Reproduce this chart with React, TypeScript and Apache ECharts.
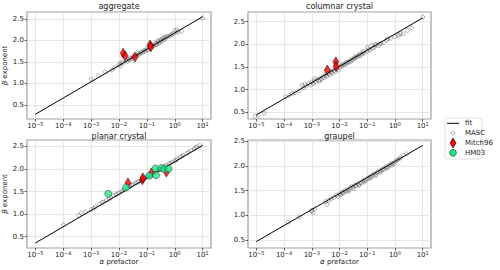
import React, { useEffect, useRef } from "react";
import * as echarts from "echarts";

// ---------- data ----------
const panelTitles = ["aggregate", "columnar crystal", "planar crystal", "graupel"];
const xTickValues = [1e-5, 1e-4, 1e-3, 1e-2, 1e-1, 1, 10];
const yTickValues = [0.5, 1.0, 1.5, 2.0, 2.5];

// fit lines (alpha prefactor vs beta exponent)
const fitAlpha = [1e-5, 10];
const aggFitBeta = [0.28, 2.55];
const colFitBeta = [0.44, 2.58];
const plaFitBeta = [0.36, 2.52];
const graFitBeta = [0.47, 2.41];

// MASC – aggregate
const aggMascAlpha = [1.0e-3, 1.78e-3, 3.2e-3, 5.6e-3, 7.1e-3, 0.01, 0.0112, 0.0126, 0.0141, 0.0178, 0.02, 0.0224, 0.0251, 0.0282, 0.0316, 0.0355, 0.0398, 0.0447, 0.0501, 0.0562, 0.0631, 0.0708, 0.0794, 0.0891, 0.1, 0.112, 0.126, 0.141, 0.158, 0.178, 0.2, 0.224, 0.251, 0.282, 0.316, 0.355, 0.398, 0.501, 0.562, 0.631, 0.794, 1.0, 1.2, 1.32, 1.78, 10.0,
  0.0112, 0.024, 0.038, 0.0525, 0.0759, 0.105, 0.132, 0.166, 0.209, 0.263, 0.331, 0.38, 0.447, 0.708, 0.891, 1.12, 0.251, 0.447];
const aggMascBeta = [1.10, 1.18, 1.27, 1.31, 1.37, 1.43, 1.40, 1.50, 1.47, 1.53, 1.51, 1.56, 1.59, 1.58, 1.62, 1.61, 1.66, 1.64, 1.70, 1.69, 1.73, 1.72, 1.77, 1.75, 1.81, 1.79, 1.85, 1.83, 1.89, 1.87, 1.93, 1.91, 1.97, 1.95, 2.01, 2.04, 2.06, 2.08, 2.10, 2.09, 2.14, 2.23, 2.24, 2.19, 2.21, 2.52,
  1.46, 1.55, 1.63, 1.67, 1.74, 1.78, 1.81, 1.86, 1.90, 1.93, 1.97, 2.00, 2.03, 2.12, 2.16, 2.18, 2.00, 2.07];

// MASC – columnar crystal
const colMascAlpha = [8.9e-6, 1.2e-5, 1.9e-5, 1.12e-4, 1.58e-4, 2.0e-4, 2.51e-4, 3.55e-4, 4.47e-4, 5.0e-4, 6.3e-4, 7.9e-4, 8.9e-4, 1.0e-3, 1.12e-3, 1.26e-3, 1.41e-3, 1.58e-3, 1.78e-3, 2.0e-3, 2.24e-3, 2.51e-3, 2.82e-3, 3.16e-3, 3.55e-3, 3.98e-3, 4.47e-3, 5.0e-3, 5.6e-3, 6.3e-3, 7.1e-3, 7.9e-3, 8.9e-3, 0.01, 0.0112, 0.0126, 0.0141, 0.0158, 0.0178, 0.02, 0.0224, 0.0251, 0.0282, 0.0316, 0.0355, 0.0398, 0.0447, 0.0501, 0.0562, 0.0631, 0.0708, 0.0794, 0.1, 0.1, 0.112, 0.126, 0.141, 0.158, 0.178, 0.2, 0.251, 0.316, 0.398, 0.501, 0.708, 1.0, 1.26, 1.58, 2.0, 2.82, 3.98, 10.0,
  5.62e-4, 1.26e-3, 2.0e-3, 3.16e-3, 5.0e-3, 7.94e-3, 0.0126, 0.0178, 0.0251, 0.0355, 0.0501, 0.0708, 0.2, 0.282, 0.562, 1.41];
const colMascBeta = [0.41, 0.43, 0.48, 0.84, 0.87, 0.92, 0.93, 0.97, 1.10, 1.04, 1.08, 1.14, 1.10, 1.17, 1.13, 1.19, 1.16, 1.22, 1.19, 1.25, 1.23, 1.28, 1.26, 1.31, 1.29, 1.35, 1.33, 1.38, 1.36, 1.42, 1.40, 1.45, 1.43, 1.49, 1.52, 1.51, 1.55, 1.57, 1.56, 1.60, 1.62, 1.61, 1.65, 1.67, 1.69, 1.71, 1.73, 1.75, 1.74, 1.78, 1.81, 1.80, 1.85, 1.93, 1.88, 1.87, 1.97, 1.91, 1.93, 2.00, 1.97, 2.02, 2.04, 2.09, 2.13, 2.17, 2.21, 2.24, 2.23, 2.30, 2.36, 2.60,
  1.12, 1.24, 1.20, 1.34, 1.40, 1.48, 1.55, 1.60, 1.66, 1.72, 1.78, 1.84, 1.98, 2.00, 2.12, 2.20];

// MASC – planar crystal
const plaMascAlpha = [1.0e-4, 3.55e-4, 4.47e-4, 6.3e-4, 1.0e-3, 1.26e-3, 1.41e-3, 2.0e-3, 2.82e-3, 3.55e-3, 5.0e-3, 6.3e-3, 7.9e-3, 0.01, 0.0126, 0.0158, 0.02, 0.0251, 0.0316, 0.0398, 0.0501, 0.0631, 0.0794, 0.1, 0.126, 0.158, 0.2, 0.251, 0.316, 0.398, 0.501, 0.631, 0.794, 1.0, 1.26, 1.58, 2.0, 2.82, 3.98, 5.01, 6.3, 7.9,
  2.51e-3, 4.47e-3, 8.9e-3, 0.0141, 0.0282, 0.0447, 0.0708, 0.112, 0.178, 0.282, 0.447, 0.708, 1.12, 1.78, 3.16, 5.62];
const plaMascBeta = [0.76, 0.97, 1.03, 1.05, 1.10, 1.13, 1.16, 1.22, 1.27, 1.31, 1.37, 1.41, 1.43, 1.47, 1.50, 1.54, 1.58, 1.61, 1.65, 1.69, 1.71, 1.75, 1.78, 1.82, 1.86, 1.90, 1.93, 1.97, 2.00, 2.04, 2.08, 2.12, 2.15, 2.18, 2.22, 2.26, 2.30, 2.35, 2.41, 2.44, 2.49, 2.52,
  1.26, 1.33, 1.45, 1.53, 1.64, 1.70, 1.77, 1.84, 1.91, 1.99, 2.06, 2.13, 2.20, 2.28, 2.37, 2.47];

// MASC – graupel
const graMascAlpha = [1.41e-4, 3.55e-4, 1.0e-3, 1.12e-3, 1.26e-3, 3.55e-3, 3.98e-3, 5.0e-3, 6.3e-3, 7.9e-3, 8.9e-3, 0.01, 0.0112, 0.0126, 0.0141, 0.0158, 0.0178, 0.02, 0.0224, 0.0251, 0.0282, 0.0316, 0.0355, 0.0398, 0.0447, 0.0501, 0.0562, 0.0631, 0.0708, 0.0794, 0.0891, 0.1, 0.112, 0.126, 0.141, 0.158, 0.178, 0.2, 0.224, 0.251, 0.282, 0.316, 0.355, 0.398, 0.447, 0.501, 0.562, 0.631, 0.708, 0.794, 0.891, 1.0, 1.12, 1.26, 2.0, 2.63,
  0.0126, 0.02, 0.0316, 0.0501, 0.0794, 0.126, 0.2, 0.316, 0.501, 0.794, 1.41, 1.58, 3.16e-3, 1.0e-3];
const graMascBeta = [0.86, 0.97, 1.10, 1.05, 1.13, 1.22, 1.30, 1.33, 1.36, 1.41, 1.38, 1.43, 1.41, 1.47, 1.45, 1.50, 1.48, 1.52, 1.50, 1.56, 1.58, 1.57, 1.61, 1.60, 1.63, 1.62, 1.66, 1.65, 1.69, 1.71, 1.70, 1.74, 1.76, 1.78, 1.77, 1.81, 1.84, 1.82, 1.86, 1.88, 1.87, 1.91, 1.93, 1.92, 1.96, 1.98, 1.97, 2.01, 2.03, 2.05, 2.04, 2.08, 2.10, 2.12, 2.21, 2.24,
  1.44, 1.49, 1.54, 1.60, 1.67, 1.74, 1.80, 1.88, 1.95, 2.01, 2.14, 2.16, 1.28, 1.08];

// Mitch96
const aggMitAlpha = [0.0141, 0.0166, 0.0372, 0.129, 0.138];
const aggMitBeta = [1.70, 1.64, 1.61, 1.89, 1.85];
const colMitAlpha = [0.00363, 0.0074, 0.0075];
const colMitBeta = [1.43, 1.61, 1.51];
const plaMitAlpha = [0.021, 0.069, 0.072, 0.145, 0.50];
const plaMitBeta = [1.69, 1.76, 1.80, 1.91, 1.93];

// HM03 (planar crystal)
const plaHmAlpha = [0.0041, 0.018, 0.123, 0.204, 0.213, 0.33, 0.42, 0.60];
const plaHmBeta = [1.45, 1.59, 1.85, 2.01, 1.86, 2.02, 2.00, 2.00];

const legendNames = ["fit", "MASC", "Mitch96", "HM03"];

// ---------- styling / layout ----------
const FONT = "DejaVu Sans";
const TXT = "#222";
const FS = 7;
const X_MIN = Math.pow(10, -5.3);
const X_MAX = Math.pow(10, 1.3);
const yRanges = [
  [0.17, 2.66],
  [0.35, 2.71],
  [0.25, 2.64],
  [0.34, 2.52],
];
const grids = [
  { left: 27, top: 12, width: 184, height: 107 },
  { left: 248, top: 12, width: 183, height: 107 },
  { left: 27, top: 140, width: 184, height: 108 },
  { left: 248, top: 140, width: 183, height: 108 },
];

const zip = (a: number[], b: number[]) => a.map((v, i) => [v, b[i]]);

const powFmt = (v: number) => {
  const L = Math.log10(v);
  const n = Math.round(L);
  if (Math.abs(L - n) > 1e-4) return "";
  const s = n < 0 ? "\u2212" + -n : String(n);
  return "{b|10}{s|" + s + "}";
};
const yFmt = (v: number) => {
  if (Math.abs(v * 2 - Math.round(v * 2)) > 1e-6) return "";
  return v.toFixed(1);
};

export default function App() {
  const ref = useRef<HTMLDivElement>(null);
  useEffect(() => {
    if (!ref.current) return;
    const chart = echarts.init(ref.current, undefined, { renderer: "svg" });

    const xAxes = grids.map((_, i) => ({
      type: "log",
      logBase: 10,
      gridIndex: i,
      min: X_MIN,
      max: X_MAX,
      axisLine: { show: false },
      axisTick: {
        show: true,
        length: 2.5,
        customValues: xTickValues,
        lineStyle: { color: "#333", width: 0.8 },
      },
      minorTick: { show: false },
      axisLabel: {
        customValues: xTickValues,
        formatter: powFmt,
        margin: 2,
        color: TXT,
        fontFamily: FONT,
        rich: {
          b: { fontSize: FS, fontFamily: FONT, color: TXT, lineHeight: 8, verticalAlign: "bottom" },
          s: { fontSize: 5, fontFamily: FONT, color: TXT, lineHeight: 8, verticalAlign: "top" },
        },
      },
      splitLine: { show: true, lineStyle: { color: "#e0e0e0", width: 0.8 } },
      name: i >= 2 ? "{i|\u03b1} prefactor" : "",
      nameLocation: "middle",
      nameGap: 10,
      nameTextStyle: {
        fontSize: FS,
        fontFamily: FONT,
        color: TXT,
        rich: { i: { fontStyle: "italic", fontSize: FS, fontFamily: FONT, color: TXT } },
      },
    }));

    const yAxes = grids.map((_, i) => ({
      type: "value",
      gridIndex: i,
      min: yRanges[i][0],
      max: yRanges[i][1],
      splitNumber: 5,
      axisLine: { show: false },
      axisTick: {
        show: true,
        length: 2.5,
        customValues: yTickValues,
        lineStyle: { color: "#333", width: 0.8 },
      },
      axisLabel: {
        customValues: yTickValues,
        formatter: yFmt,
        margin: 3,
        fontSize: FS,
        fontFamily: FONT,
        color: TXT,
      },
      splitLine: { show: true, lineStyle: { color: "#e0e0e0", width: 0.8 } },
      name: i % 2 === 0 ? "{i|\u03b2} exponent" : "",
      nameLocation: "middle",
      nameGap: 15,
      nameRotate: 90,
      nameTextStyle: {
        fontSize: FS,
        fontFamily: FONT,
        color: TXT,
        rich: { i: { fontStyle: "italic", fontSize: FS, fontFamily: FONT, color: TXT } },
      },
    }));

    const mascStyle = {
      color: "rgba(255,255,255,0)",
      borderColor: "rgba(95,95,95,0.85)",
      borderWidth: 0.7,
    };
    const mitStyle = { color: "#ff0000", borderColor: "#000", borderWidth: 0.6 };
    const hmStyle = { color: "#1ee88a", borderColor: "#222", borderWidth: 0.6 };

    const mascSets = [
      zip(aggMascAlpha, aggMascBeta),
      zip(colMascAlpha, colMascBeta),
      zip(plaMascAlpha, plaMascBeta),
      zip(graMascAlpha, graMascBeta),
    ];
    const fitSets = [
      zip(fitAlpha, aggFitBeta),
      zip(fitAlpha, colFitBeta),
      zip(fitAlpha, plaFitBeta),
      zip(fitAlpha, graFitBeta),
    ];
    const mitSets = [
      zip(aggMitAlpha, aggMitBeta),
      zip(colMitAlpha, colMitBeta),
      zip(plaMitAlpha, plaMitBeta),
    ];

    const series: any[] = [];
    for (let i = 0; i < 4; i++) {
      series.push({
        name: "MASC",
        type: "scatter",
        xAxisIndex: i,
        yAxisIndex: i,
        data: mascSets[i],
        symbol: "circle",
        symbolSize: 3.8,
        itemStyle: mascStyle,
        z: 2,
      });
      series.push({
        name: "fit",
        type: "line",
        xAxisIndex: i,
        yAxisIndex: i,
        data: fitSets[i],
        symbol: "none",
        lineStyle: { color: "#000", width: 1 },
        z: 3,
      });
      if (i < 3) {
        series.push({
          name: "Mitch96",
          type: "scatter",
          xAxisIndex: i,
          yAxisIndex: i,
          data: mitSets[i],
          symbol: "diamond",
          symbolSize: [6, 10],
          itemStyle: mitStyle,
          z: 4,
        });
      }
    }
    series.push({
      name: "HM03",
      type: "scatter",
      xAxisIndex: 2,
      yAxisIndex: 2,
      data: zip(plaHmAlpha, plaHmBeta),
      symbol: "circle",
      symbolSize: 7,
      itemStyle: hmStyle,
      z: 5,
    });

    const titlePos = [
      [119, 6],
      [339.5, 6],
      [119, 136],
      [339.5, 136],
    ];
    const graphics: any[] = panelTitles.map((t, i) => ({
      type: "text",
      x: titlePos[i][0],
      y: titlePos[i][1],
      style: {
        text: t,
        fontSize: 8,
        fontFamily: FONT,
        fill: TXT,
        align: "center",
        verticalAlign: "middle",
        textAlign: "center",
        textVerticalAlign: "middle",
      },
    }));

    // legend
    const lx = 445;
    const ly = 118;
    const rowY = [123.3, 133.2, 143, 152.8];
    const legendChildren: any[] = [
      {
        type: "rect",
        shape: { x: lx, y: ly, width: 37, height: 41, r: 2 },
        style: { fill: "#fff", stroke: "#d5d5d5", lineWidth: 0.8 },
      },
      {
        type: "line",
        shape: { x1: 447, y1: rowY[0], x2: 459, y2: rowY[0] },
        style: { stroke: "#000", lineWidth: 1 },
      },
      {
        type: "circle",
        shape: { cx: 453, cy: rowY[1], r: 1.7 },
        style: { fill: "rgba(255,255,255,0)", stroke: "rgba(95,95,95,0.85)", lineWidth: 0.6 },
      },
      {
        type: "polygon",
        shape: { points: [[453, rowY[2] - 5], [456, rowY[2]], [453, rowY[2] + 5], [450, rowY[2]]] },
        style: { fill: "#ff0000", stroke: "#000", lineWidth: 0.6 },
      },
      {
        type: "circle",
        shape: { cx: 453, cy: rowY[3], r: 3.4 },
        style: { fill: "#1ee88a", stroke: "#222", lineWidth: 0.6 },
      },
    ];
    legendNames.forEach((n, k) => {
      legendChildren.push({
        type: "text",
        x: 465,
        y: rowY[k],
        style: {
          text: n,
          fontSize: FS,
          fontFamily: FONT,
          fill: TXT,
          align: "left",
          verticalAlign: "middle",
          textAlign: "left",
          textVerticalAlign: "middle",
        },
      });
    });
    graphics.push({ type: "group", children: legendChildren, z: 10 });

    chart.setOption({
      animation: false,
      backgroundColor: "#fff",
      textStyle: { fontFamily: FONT },
      grid: grids.map((g) => ({
        ...g,
        show: true,
        backgroundColor: "#fff",
        borderColor: "#a0a0a0",
        borderWidth: 1.2,
        containLabel: false,
      })),
      xAxis: xAxes,
      yAxis: yAxes,
      series,
      graphic: graphics,
    });
    return () => chart.dispose();
  }, []);
  return (
    <div
      ref={ref}
      style={{ position: "fixed", left: 0, top: 0, width: 500, height: 270 }}
    />
  );
}
